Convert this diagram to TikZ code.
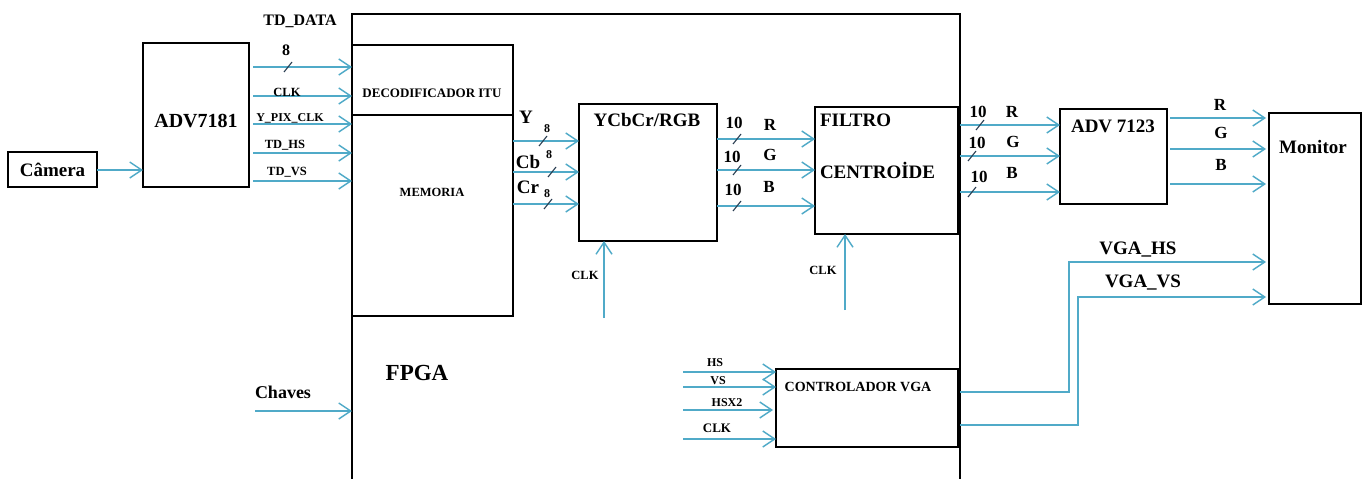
\documentclass[tikz,border=0pt]{standalone}
\usepackage{fontspec}
\setmainfont{Liberation Serif}
\usetikzlibrary{arrows.meta,calc}
\definecolor{sigblue}{RGB}{80,170,200}
\definecolor{slashc}{RGB}{40,60,80}
\newcommand\fsz[1]{\fontsize{#1}{#1}\selectfont\bfseries}
\begin{document}
\begin{tikzpicture}[x=1pt,y=-1pt,
  box/.style={draw=black,line width=1.3pt,inner sep=0pt,outer sep=0pt,anchor=north west},
  boxline/.style={draw=black,line width=1.3pt},
  sig/.style={draw=sigblue,line width=1.6pt,-{Straight Barb[length=12pt,width=16pt,line width=1.4pt]}},
  slashst/.style={draw=slashc,line width=1.1pt},
  lbl/.style={inner sep=0pt,outer sep=0pt}]
\useasboundingbox (0,0) rectangle (1365,479);
\fill[white] (0,0) rectangle (1365,479);
% FPGA outline (open at bottom)
\node[lbl,anchor=north west,minimum width=608pt,minimum height=468pt] (fpga) at (352,14) {};
\draw[boxline] (fpga.south west) -- (fpga.north west) -- (fpga.north east) -- (fpga.south east);
% boxes
\node[box,minimum width=89pt,minimum height=35pt] (cam) at (8,152) {};
\node[box,minimum width=106pt,minimum height=144pt] (adv) at (143,43) {};
\node[box,minimum width=161pt,minimum height=70pt] (dec) at (352,45) {};
\node[box,minimum width=161pt,minimum height=201pt] (mem) at (352,115) {};
\node[box,minimum width=138pt,minimum height=137pt] (ycc) at (579,104) {};
\node[box,minimum width=143pt,minimum height=127pt] (fil) at (815,107) {};
\node[box,minimum width=107pt,minimum height=95pt] (dac) at (1060,109) {};
\node[box,minimum width=92pt,minimum height=191pt] (mon) at (1269,113) {};
\node[box,minimum width=182pt,minimum height=78pt] (ctl) at (776,369) {};
% box texts
\node[lbl,font=\fsz{19}] (tcam) at (cam.center) {Câmera};
\node[lbl,font=\fsz{20}] (tadv) at (196,121) {ADV7181};
\node[lbl,font=\fsz{13}] (tdec) at (432,93) {DECODIFICADOR ITU};
\node[lbl,font=\fsz{12.5}] (tmem) at (432,192) {MEMORIA};
\node[lbl,font=\fsz{19}] (tycc) at (647,120) {YCbCr/RGB};
\node[lbl,font=\fsz{19},anchor=west] (tfil1) at (820,120) {FILTRO};
\node[lbl,font=\fsz{19},anchor=west] (tfil2) at (820,170) {CENTROİDE};
\node[lbl,font=\fsz{19}] (tdac) at (1113,126) {ADV 7123};
\node[lbl,font=\fsz{19}] (tmon) at (1313,147) {Monitor};
\node[lbl,font=\fsz{14}] (tctl) at (858,387) {CONTROLADOR VGA};
\node[lbl,font=\fsz{23}] (tfpga) at (417,373) {FPGA};
% camera -> ADV7181
\draw[sig] (cam.east |- 0,170) -- (adv.west |- 0,170);
% ADV7181 outputs
\draw[sig] ([xshift=4pt]adv.east |- 0,67) -- (dec.west |- 0,67);
\draw[sig] ([xshift=4pt]adv.east |- 0,96) -- (dec.west |- 0,96);
\draw[sig] ([xshift=4pt]adv.east |- 0,124) -- (mem.west |- 0,124);
\draw[sig] ([xshift=4pt]adv.east |- 0,153) -- (mem.west |- 0,153);
\draw[sig] ([xshift=4pt]adv.east |- 0,181) -- (mem.west |- 0,181);
\draw[slashst] (284,72) -- (292,62);
\node[lbl,font=\fsz{16}] (ltd) at (300,21) {TD\_DATA};
\node[lbl,font=\fsz{16}] (l8a) at (286,50) {8};
\node[lbl,font=\fsz{12.5}] (lclk1) at (287,92) {CLK};
\node[lbl,font=\fsz{12}] (lypix) at (290,118) {Y\_PIX\_CLK};
\node[lbl,font=\fsz{12.5}] (lths) at (285,145) {TD\_HS};
\node[lbl,font=\fsz{12.5}] (ltvs) at (287,172) {TD\_VS};
% Y Cb Cr
\draw[sig] (mem.east |- 0,141) -- (ycc.west |- 0,141);
\draw[sig] (mem.east |- 0,172) -- (ycc.west |- 0,172);
\draw[sig] (mem.east |- 0,204) -- (ycc.west |- 0,204);
\draw[slashst] (539,146) -- (547,136);
\draw[slashst] (548,177) -- (556,167);
\draw[slashst] (544,209) -- (552,199);
\node[lbl,font=\fsz{19}] (ly) at (526,117) {Y};
\node[lbl,font=\fsz{12}] (ly8) at (547,129) {8};
\node[lbl,font=\fsz{19}] (lcb) at (528,162) {Cb};
\node[lbl,font=\fsz{12}] (lcb8) at (549,155) {8};
\node[lbl,font=\fsz{19}] (lcr) at (528,187) {Cr};
\node[lbl,font=\fsz{12}] (lcr8) at (547,194) {8};
% RGB from converter
\draw[sig] (ycc.east |- 0,139) -- (fil.west |- 0,139);
\draw[sig] (ycc.east |- 0,170) -- (fil.west |- 0,170);
\draw[sig] (ycc.east |- 0,206) -- (fil.west |- 0,206);
\draw[slashst] (733,144) -- (741,134);
\draw[slashst] (733,175) -- (741,165);
\draw[slashst] (733,211) -- (741,201);
\node[lbl,font=\fsz{17}] (l10a) at (734,123) {10};
\node[lbl,font=\fsz{17}] (lra) at (770,125) {R};
\node[lbl,font=\fsz{17}] (l10b) at (732,157) {10};
\node[lbl,font=\fsz{17}] (lga) at (770,155) {G};
\node[lbl,font=\fsz{17}] (l10c) at (733,190) {10};
\node[lbl,font=\fsz{17}] (lba) at (769,187) {B};
% CLK into converter and filter
\coordinate (clka) at (604,318);
\coordinate (clkb) at (845,310);
\draw[sig] (clka) -- (clka |- ycc.south);
\draw[sig] (clkb) -- (clkb |- fil.south);
\node[lbl,font=\fsz{12.5}] (lclk2) at (585,275) {CLK};
\node[lbl,font=\fsz{12.5}] (lclk3) at (823,270) {CLK};
% filter -> ADV 7123
\draw[sig] (fpga.east |- 0,125) -- (dac.west |- 0,125);
\draw[sig] (fpga.east |- 0,156) -- (dac.west |- 0,156);
\draw[sig] (fpga.east |- 0,192) -- (dac.west |- 0,192);
\draw[slashst] (976,130) -- (984,120);
\draw[slashst] (968,161) -- (976,151);
\draw[slashst] (968,197) -- (976,187);
\node[lbl,font=\fsz{17}] (l10d) at (978,112) {10};
\node[lbl,font=\fsz{17}] (lrb) at (1012,112) {R};
\node[lbl,font=\fsz{17}] (l10e) at (977,143) {10};
\node[lbl,font=\fsz{17}] (lgb) at (1013,142) {G};
\node[lbl,font=\fsz{17}] (l10f) at (979,177) {10};
\node[lbl,font=\fsz{17}] (lbb) at (1012,173) {B};
% ADV 7123 -> monitor
\draw[sig] ([xshift=3pt]dac.east |- 0,118) -- ([xshift=-3pt]mon.west |- 0,118);
\draw[sig] ([xshift=3pt]dac.east |- 0,149) -- ([xshift=-3pt]mon.west |- 0,149);
\draw[sig] ([xshift=3pt]dac.east |- 0,184) -- ([xshift=-3pt]mon.west |- 0,184);
\node[lbl,font=\fsz{17}] (lrc) at (1220,105) {R};
\node[lbl,font=\fsz{17}] (lgc) at (1221,133) {G};
\node[lbl,font=\fsz{17}] (lbc) at (1221,165) {B};
% VGA sync
\coordinate (hsb) at (1069,262);
\coordinate (vsb) at (1078,297);
\draw[sig] ([xshift=2pt]ctl.east |- 0,392) -| (hsb) -- ([xshift=-3pt]mon.west |- hsb);
\draw[sig] ([xshift=2pt]ctl.east |- 0,425) -| (vsb) -- ([xshift=-3pt]mon.west |- vsb);
\node[lbl,font=\fsz{19}] (lvhs) at (1138,250) {VGA\_HS};
\node[lbl,font=\fsz{19}] (lvvs) at (1143,283) {VGA\_VS};
% controller inputs
\coordinate (cin) at (683,0);
\draw[sig] (cin |- 0,372) -- (ctl.west |- 0,372);
\draw[sig] (cin |- 0,387) -- (ctl.west |- 0,387);
\draw[sig] (cin |- 0,410) -- ([xshift=-3pt]ctl.west |- 0,410);
\draw[sig] (cin |- 0,439) -- (ctl.west |- 0,439);
\node[lbl,font=\fsz{12}] (lhs) at (715,363) {HS};
\node[lbl,font=\fsz{12}] (lvs) at (718,381) {VS};
\node[lbl,font=\fsz{12}] (lhsx) at (727,403) {HSX2};
\node[lbl,font=\fsz{13}] (lclk4) at (717,428) {CLK};
% Chaves
\coordinate (chv) at (255,411);
\draw[sig] (chv) -- (fpga.west |- chv);
\node[lbl,font=\fsz{18}] (lchv) at (283,392) {Chaves};
\end{tikzpicture}
\end{document}
